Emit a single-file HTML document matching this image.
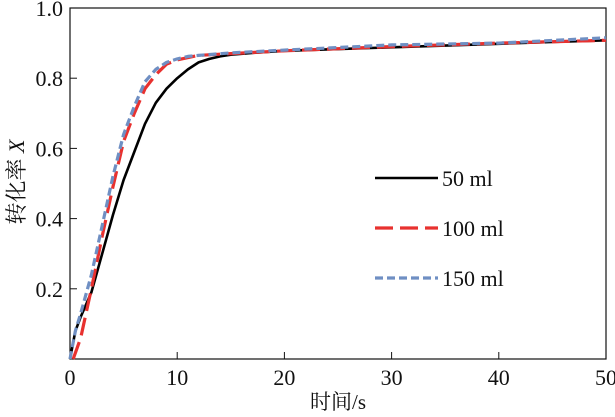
<!DOCTYPE html>
<html><head><meta charset="utf-8"><style>
body{margin:0;background:#fff;}
svg text{font-family:"Liberation Serif","Noto Serif CJK SC",serif;fill:#111;}
</style></head><body>
<svg width="615" height="412">
<g id="axes"></g><g id="series"></g><g id="legend"></g>
</svg>
<script>
const xTicks=[0,10,20,30,40,50];
const yTicks=[0.2,0.4,0.6,0.8,1.0];
const t50=[0,0.5,1,2,3,4,5,6,7,8,9,10,11,12,13,14,15,17,20,25,30,35,40,45,50];
const v50=[0,0.08,0.12,0.19,0.3,0.41,0.51,0.59,0.67,0.73,0.77,0.8,0.825,0.845,0.855,0.862,0.867,0.872,0.878,0.883,0.888,0.893,0.898,0.903,0.908];
const t100=[0.3,1,2,3,4,5,6,7,8,9,10,12,15,20,30,40,50];
const v100=[0,0.06,0.2,0.35,0.49,0.62,0.7,0.77,0.81,0.84,0.852,0.865,0.87,0.878,0.89,0.9,0.908];
const t150=[0,0.5,1,2,3,4,5,6,7,8,9,10,11,12,15,20,30,40,50];
const v150=[0,0.08,0.13,0.24,0.38,0.52,0.64,0.72,0.79,0.825,0.845,0.855,0.862,0.865,0.872,0.88,0.895,0.9,0.915];
const labels=["50 ml","100 ml","150 ml"];
const X0=70,X1=606,Y0=359,Y1=8;
const sx=v=>X0+(X1-X0)*v/50, sy=v=>Y0-(Y0-Y1)*v;
const NS="http://www.w3.org/2000/svg";
function mk(tag,attrs,parent){const e=document.createElementNS(NS,tag);for(const k in attrs)e.setAttribute(k,attrs[k]);parent.appendChild(e);return e;}
const ax=document.getElementById('axes'),se=document.getElementById('series'),lg=document.getElementById('legend');
const fr=mk('rect',{x:X0,y:Y1,width:X1-X0,height:Y0-Y1,fill:'none',stroke:'#111','stroke-width':1.2},ax);

xTicks.forEach(t=>{
 if(t>0&&t<50)mk('line',{x1:sx(t),x2:sx(t),y1:Y0,y2:Y0-7,stroke:'#111'},ax);
 const tx=mk('text',{x:sx(t),y:385,'text-anchor':'middle','font-size':22},ax);tx.textContent=t;
 
 
});
yTicks.forEach(t=>{
 if(t<1)mk('line',{x1:X0,x2:X0+7,y1:sy(t),y2:sy(t),stroke:'#111'},ax);
 const tx=mk('text',{x:63,y:sy(t)+8,'text-anchor':'end','font-size':22},ax);tx.textContent=t.toFixed(1);
 
 
});
const xt=mk('text',{x:338,y:409,'text-anchor':'middle','font-size':21},ax);xt.textContent='时间/s';

const yt=mk('text',{x:0,y:0,'text-anchor':'middle','font-size':22,transform:'translate(24,182) rotate(-90)'},ax);
yt.innerHTML='转化率 <tspan font-style="italic">X</tspan>';

const styles=[{c:'#000',w:2.6,d:''},{c:'#e8312f',w:3.2,d:'18,7'},{c:'#6f8fc3',w:3.2,d:'8,4'}];
const data=[[t50,v50],[t100,v100],[t150,v150]];
const names=['series-50ml','series-100ml','series-150ml'];
data.forEach((d,i)=>{
 const pts=d[0].map((t,j)=>sx(t).toFixed(1)+','+sy(d[1][j]).toFixed(1)).join(' ');
 const p=mk('polyline',{points:pts,fill:'none',stroke:styles[i].c,'stroke-width':styles[i].w,'stroke-dasharray':styles[i].d,'stroke-linejoin':'round'},se);
 
 const y=178+50*i;
 const l=mk('line',{x1:375,x2:438,y1:y,y2:y,stroke:styles[i].c,'stroke-width':styles[i].w,'stroke-dasharray':styles[i].d},lg);
 
 const tx=mk('text',{x:442,y:y+8,'font-size':22},lg);tx.textContent=labels[i];
 
});
</script>
</body></html>
